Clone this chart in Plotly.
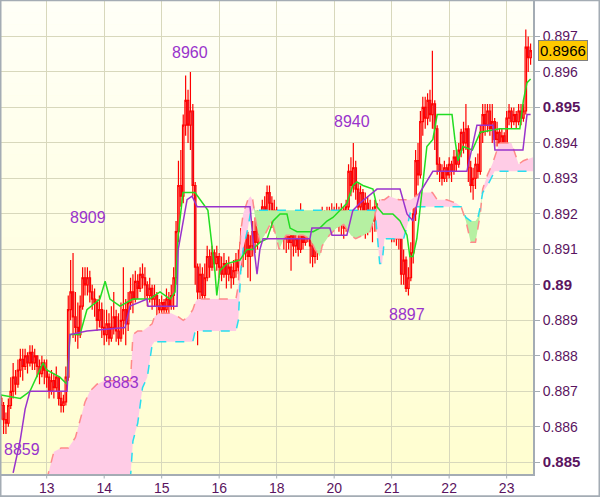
import plotly.graph_objects as go

# ---------------- data (prices in pips: 8966 -> 0.8966) ----------------
START_HOUR = -19          # hour index of first bar (0 = start of day 13)
first_open = 8868

closes = [
    8866, 8862, 8861, 8866, 8870, 8874, 8872, 8876, 8879, 8877,
    8880, 8878, 8881, 8878, 8880, 8877, 8875, 8878, 8876, 8874,
    8870, 8873, 8871, 8874, 8868, 8866, 8867, 8874, 8893, 8898,
    8891, 8888, 8886, 8894, 8902, 8900, 8902, 8898, 8896, 8895,
    8890, 8893, 8888, 8886, 8889, 8885, 8888, 8891, 8887, 8885,
    8890, 8893, 8889, 8895, 8898, 8896, 8901, 8899, 8903, 8902,
    8900, 8897, 8899, 8896, 8897, 8894, 8893, 8895, 8893, 8896,
    8894, 8897, 8902, 8915, 8928, 8925, 8945, 8952, 8945, 8949,
    8928, 8905, 8898, 8903, 8897, 8902, 8908, 8905, 8909, 8906,
    8908, 8905, 8903, 8906, 8903, 8905, 8902, 8904, 8907, 8905,
    8912, 8909, 8914, 8908, 8911, 8915, 8912, 8918, 8916, 8922,
    8920, 8926, 8923, 8918, 8921, 8916, 8914, 8917, 8913, 8915,
    8912, 8914, 8911, 8913, 8910, 8915, 8912, 8914, 8917, 8911,
    8908, 8912, 8910, 8917, 8919, 8916, 8920, 8918, 8921, 8918,
    8920, 8917, 8921, 8916, 8922, 8932, 8928, 8933, 8927, 8922,
    8926, 8919, 8923, 8917, 8921, 8918, 8922, 8919, 8922, 8917,
    8920, 8916, 8919, 8915, 8917, 8913, 8915, 8903, 8907, 8899,
    8902, 8909, 8920, 8935, 8931, 8946, 8950, 8947, 8952, 8948,
    8951, 8944, 8934, 8932, 8930, 8933, 8931, 8934, 8932, 8936,
    8934, 8938, 8943, 8940, 8944, 8933, 8928, 8930, 8934, 8932,
    8943, 8948, 8945, 8949, 8944, 8946, 8941, 8943, 8940, 8942,
    8939, 8947, 8949, 8946, 8948, 8946, 8949, 8947, 8949, 8967,
    8964, 8966,
]

highs = [
    8869, 8867, 8864, 8868, 8874, 8878, 8876, 8879, 8882, 8882,
    8882, 8881, 8883, 8883, 8882, 8880, 8879, 8880, 8879, 8879,
    8875, 8876, 8875, 8877, 8874, 8870, 8869, 8877, 8897, 8907,
    8909, 8898, 8895, 8897, 8905, 8905, 8905, 8904, 8900, 8899,
    8896, 8897, 8895, 8893, 8893, 8892, 8894, 8898, 8893, 8892,
    8895, 8905, 8896, 8898, 8902, 8903, 8904, 8903, 8905, 8906,
    8905, 8901, 8902, 8900, 8900, 8898, 8896, 8897, 8896, 8899,
    8898, 8900, 8905, 8918, 8935, 8938, 8948, 8959, 8955, 8960,
    8951, 8929, 8906, 8906, 8905, 8906, 8911, 8910, 8911, 8910,
    8911, 8909, 8908, 8909, 8907, 8908, 8906, 8907, 8909, 8910,
    8916, 8914, 8917, 8915, 8914, 8918, 8919, 8921, 8920, 8924,
    8925, 8928, 8928, 8925, 8924, 8922, 8918, 8919, 8918, 8918,
    8916, 8916, 8915, 8916, 8914, 8923, 8917, 8918, 8920, 8919,
    8913, 8914, 8914, 8920, 8922, 8921, 8922, 8922, 8923, 8922,
    8923, 8922, 8923, 8922, 8924, 8934, 8936, 8940, 8935, 8929,
    8928, 8927, 8926, 8925, 8924, 8922, 8924, 8923, 8924, 8923,
    8922, 8921, 8921, 8920, 8919, 8918, 8917, 8917, 8910, 8908,
    8905, 8912, 8923, 8938, 8940, 8949, 8953, 8953, 8954, 8955,
    8966, 8952, 8945, 8936, 8934, 8935, 8934, 8936, 8935, 8938,
    8938, 8940, 8944, 8946, 8951, 8945, 8935, 8933, 8936, 8937,
    8945, 8951, 8951, 8951, 8951, 8951, 8947, 8946, 8944, 8944,
    8943, 8949, 8951, 8950, 8950, 8949, 8951, 8951, 8951, 8972,
    8970, 8968,
]

lows = [
    8862, 8858, 8858, 8860, 8865, 8868, 8869, 8871, 8874, 8873,
    8876, 8875, 8877, 8876, 8876, 8874, 8872, 8874, 8872, 8871,
    8868, 8869, 8868, 8870, 8866, 8864, 8864, 8866, 8873, 8890,
    8885, 8884, 8882, 8885, 8893, 8897, 8897, 8895, 8893, 8891,
    8887, 8888, 8885, 8883, 8884, 8883, 8884, 8886, 8884, 8883,
    8884, 8886, 8883, 8887, 8893, 8892, 8895, 8896, 8898, 8899,
    8896, 8894, 8895, 8893, 8894, 8891, 8891, 8891, 8891, 8892,
    8890, 8893, 8893, 8900, 8912, 8922, 8923, 8942, 8940, 8938,
    8925, 8900, 8883, 8895, 8894, 8896, 8901, 8902, 8904, 8904,
    8904, 8902, 8901, 8902, 8899, 8901, 8899, 8900, 8902, 8903,
    8904, 8905, 8907, 8902, 8901, 8908, 8909, 8910, 8912, 8914,
    8917, 8919, 8919, 8916, 8915, 8913, 8911, 8912, 8910, 8909,
    8910, 8904, 8908, 8909, 8908, 8909, 8910, 8911, 8912, 8906,
    8905, 8906, 8907, 8909, 8915, 8914, 8915, 8915, 8916, 8916,
    8916, 8915, 8914, 8913, 8915, 8921, 8925, 8926, 8924, 8917,
    8920, 8914, 8913, 8914, 8915, 8912, 8915, 8915, 8917, 8915,
    8914, 8914, 8913, 8912, 8912, 8911, 8910, 8900, 8900, 8898,
    8897, 8901, 8906, 8918, 8928, 8930, 8942, 8944, 8945, 8946,
    8944, 8938, 8931, 8929, 8928, 8929, 8929, 8930, 8929, 8931,
    8932, 8933, 8936, 8937, 8938, 8929, 8926, 8924, 8927, 8930,
    8931, 8940, 8942, 8943, 8942, 8940, 8939, 8939, 8937, 8938,
    8937, 8938, 8945, 8944, 8945, 8944, 8945, 8945, 8946, 8948,
    8960, 8962,
]

day_ticks = [0, 24, 48, 72, 96, 120, 144, 168, 192]
day_labels = ["13", "14", "15", "16", "18", "20", "21", "22", "23"]

BOLD = "<span style='font-size:15px'><b>%s</b></span>"
price_ticks = [0.885, 0.886, 0.887, 0.888, 0.889, 0.890, 0.891,
               0.892, 0.893, 0.894, 0.895, 0.896, 0.897]
price_labels = [BOLD % "0.885", "0.886", "0.887", "0.888", "0.889", BOLD % "0.89",
                "0.891", "0.892", "0.893", "0.894", BOLD % "0.895", "0.896", "0.897"]

# Ichimoku cloud (senkou span A / B), read at the same hours
cloud_h = [0, 3, 6, 9, 12, 14, 16, 18, 21, 24, 28, 32, 35, 36, 38, 39, 40, 42, 44, 45,
           47, 49, 52, 55, 57, 59, 61, 62, 63, 67, 72, 76, 79, 80, 81, 82, 84, 85, 86, 87,
           88, 89, 91, 93, 94, 96, 97, 99, 100, 104, 107, 110, 112, 114, 115, 118, 121, 124,
           125, 127, 129, 132, 135, 136, 137, 138, 139, 140, 141, 143, 147, 149, 151, 152,
           154, 156, 161, 163, 167, 171, 173, 175, 177, 179, 180, 181, 182, 184, 186, 187,
           189, 194, 196, 197, 199, 203]
span_a = [8845, 8853, 8854, 8854, 8857, 8862, 8867, 8870, 8872, 8873,
          8873, 8873, 8873, 8886, 8887, 8887, 8887, 8888, 8889, 8891,
          8892, 8892, 8892, 8891, 8890, 8891, 8893, 8895, 8896, 8896,
          8896, 8896, 8896, 8900, 8915, 8920, 8924, 8925, 8924, 8919,
          8915, 8912, 8914, 8917, 8918, 8913, 8910, 8913, 8914, 8914,
          8914, 8913, 8910, 8908, 8911, 8914, 8916, 8917, 8916, 8914,
          8913, 8914, 8915, 8917, 8920, 8922, 8924, 8924, 8924, 8925,
          8924, 8924, 8924, 8924, 8925, 8926, 8926, 8924, 8924, 8923,
          8922, 8918, 8912, 8912, 8916, 8920, 8927, 8931, 8934, 8936,
          8940, 8940, 8936, 8934, 8935, 8936]
span_b = ([8830] * 11 + [8832, 8846, 8856, 8861, 8866, 8871, 8874, 8883] + [8884] * 8
          + [8887] * 6 + [8890, 8904, 8910, 8916, 8920] + [8921] * 27 + [8914, 8906, 8906]
          + [8913] * 4 + [8918, 8921] + [8922] * 7
          + [8919, 8918, 8918, 8919, 8922, 8926, 8928, 8931] + [8932] * 7)

# conversion line (green) and base line (purple)
tenkan_h = [-19.5, -11, -7, -1.5, 0, 2.6, 5.5, 8.5, 9.3, 9.7, 13.9, 16.8, 22.2, 24.4, 26.4,
            30.6, 36, 41.9, 43, 47.3, 51.5, 53.6, 54.9, 56.9, 59.8, 61.9, 67.3, 69, 70.2, 71,
            72.3, 75.3, 80.7, 83.6, 86, 89, 92, 94.5, 97.4, 100.3, 101.6, 104.5, 111.2, 114,
            117, 119.5, 122.4, 125.3, 127.8, 129.5, 132, 136.2, 137.9, 140.4, 144.5, 147.5,
            150.4, 151.6, 152.9, 154.5, 158.7, 161.2, 163, 169.2, 170.4, 171.7, 173.7, 177.7,
            181, 189.2, 197.5, 199, 200.5, 202]
tenkan_v = [8869, 8868, 8870, 8878, 8876, 8875, 8874, 8872, 8884, 8886, 8886, 8893, 8896, 8901,
            8896, 8894, 8896, 8896, 8896, 8898, 8896, 8898, 8914, 8926, 8926, 8926, 8921, 8912,
            8904, 8897, 8904, 8906, 8907, 8910, 8910, 8912, 8913, 8918, 8920, 8920, 8916, 8915,
            8915, 8916, 8918, 8919, 8921, 8923, 8928, 8929, 8928, 8927, 8922, 8920, 8920, 8918,
            8914, 8908, 8908, 8913, 8939, 8941, 8948, 8948, 8941, 8935, 8939, 8938, 8943, 8944,
            8944, 8952, 8957, 8958]
kijun_h = [-14, -11.1, -9, -7, 8.5, 9.0, 9.7, 16.8, 32.7, 34.8, 41.9, 42.3, 54.4, 54.9, 58.6,
           60.7, 62.8, 84.9, 86.1, 87.8, 89, 90.3, 92, 109.9, 110.7, 118.2, 119.1, 125.3, 127.8,
           130.7, 137.9, 147.5, 150.4, 152.9, 155.8, 161.2, 175.4, 176.7, 179.6, 186.3, 187.1,
           198.8, 200.5, 202]
kijun_v = [8847, 8856, 8865, 8870, 8870, 8878, 8886, 8887, 8888, 8894, 8896, 8894, 8894, 8910,
           8924, 8925, 8922, 8922, 8913, 8903, 8910, 8913, 8913, 8913, 8916, 8916, 8914, 8914,
           8921, 8923, 8927, 8927, 8920, 8918, 8926, 8932, 8932, 8936, 8945, 8945, 8938, 8938,
           8948, 8948]

# high/low callouts
label_text = ["8960", "8909", "8940", "8883", "8859", "8897"]
label_h = [59.8, 17.2, 127.4, 31.0, -10.3, 150.4]
label_p = [8965.4, 8919.0, 8946.0, 8872.6, 8853.7, 8891.7]

last_price = 8966

# ---------------- build ----------------
P = lambda v: v / 10000.0

n = min(len(closes), len(highs), len(lows))
hours = [START_HOUR + i for i in range(n)]
opens = [first_open] + closes[:n - 1]
c = [P(v) for v in closes[:n]]
o = [P(v) for v in opens]
h = [P(max(highs[i], opens[i], closes[i])) for i in range(n)]
l = [P(min(lows[i], opens[i], closes[i])) for i in range(n)]

m = min(len(cloud_h), len(span_a), len(span_b))
ch = cloud_h[:m]
A = [P(v) for v in span_a[:m]]
B = [P(v) for v in span_b[:m]]
top = [max(a, b) for a, b in zip(A, B)]

fig = go.Figure()

# cloud fills: pink where A above B, green where B above A
fig.add_trace(go.Scatter(x=ch, y=B, mode="lines", line=dict(width=0), hoverinfo="skip"))
fig.add_trace(go.Scatter(x=ch, y=top, mode="lines", line=dict(width=0), fill="tonexty",
                         fillcolor="#FFCCE6", hoverinfo="skip"))
fig.add_trace(go.Scatter(x=ch, y=A, mode="lines", line=dict(width=0), hoverinfo="skip"))
fig.add_trace(go.Scatter(x=ch, y=top, mode="lines", line=dict(width=0), fill="tonexty",
                         fillcolor="#B6F0A2", hoverinfo="skip"))
fig.add_trace(go.Scatter(x=ch, y=A, mode="lines",
                         line=dict(color="#FF8A8A", width=1.5, dash="dash")))
fig.add_trace(go.Scatter(x=ch, y=B, mode="lines",
                         line=dict(color="#28DDEE", width=1.5, dash="dash")))

# candles
fig.add_trace(go.Candlestick(
    x=hours, open=o, high=h, low=l, close=c,
    increasing=dict(line=dict(color="#FF0000", width=1.2), fillcolor="rgba(0,0,0,0)"),
    decreasing=dict(line=dict(color="#FF0000", width=1.2), fillcolor="#8060B4"),
    whiskerwidth=0, hoverinfo="skip",
))

fig.add_trace(go.Scatter(x=tenkan_h, y=[P(v) for v in tenkan_v], mode="lines",
                         line=dict(color="#22DD22", width=1.5)))
fig.add_trace(go.Scatter(x=kijun_h, y=[P(v) for v in kijun_v], mode="lines",
                         line=dict(color="#9933CC", width=1.5)))

# background gradient (top almost white -> bottom pale yellow)
shapes = []
NB = 40
c_top = (255, 255, 247)
c_bot = (255, 254, 208)
for i in range(NB):
    t = (i + 0.5) / NB
    col = tuple(round(c_top[k] + (c_bot[k] - c_top[k]) * t) for k in range(3))
    shapes.append(dict(type="rect", xref="paper", yref="paper", x0=0, x1=1,
                       y0=1 - (i + 1) / NB, y1=1 - i / NB + 0.001,
                       fillcolor="rgb(%d,%d,%d)" % col, line=dict(width=0), layer="below"))
# short day tick marks below the time axis
for d in day_ticks:
    shapes.append(dict(type="line", xref="x", yref="paper", x0=d, x1=d,
                       y0=0, y1=-4.5 / 473, line=dict(color="#A4ACB4", width=1),
                       layer="above"))
# outer border of the picture
shapes.append(dict(type="rect", xref="paper", yref="paper",
                   x0=-0.5 / 532, x1=598.5 / 532, y0=-22.2 / 473, y1=473.8 / 473,
                   line=dict(color="#A4ACB4", width=2), fillcolor="rgba(0,0,0,0)",
                   layer="above"))

annotations = []
for t, hx, py in zip(label_text, label_h, label_p):
    annotations.append(dict(x=hx, y=P(py), xref="x", yref="y", text=t, showarrow=False,
                            font=dict(family="Liberation Sans, Arial", size=16,
                                      color="#9933CC")))
annotations.append(dict(x=536.5 / 532, y=P(last_price), xref="paper", yref="y",
                        xanchor="left", yanchor="middle", text="0.8966", showarrow=False,
                        bgcolor="#FFC800", bordercolor="#808080", borderwidth=1, borderpad=1,
                        font=dict(family="Liberation Sans, Arial", size=15, color="#000000")))

tickfont = dict(family="Liberation Sans, Arial", size=14, color="#5A1460")

fig.update_layout(
    width=600, height=497,
    margin=dict(l=1, r=67, t=1, b=23, autoexpand=False),
    paper_bgcolor="#FFFFFF",
    plot_bgcolor="#FFFEE0",
    showlegend=False,
    hovermode=False,
    boxgap=0.12,
    shapes=shapes,
    annotations=annotations,
    xaxis=dict(range=[-19.07, 203.0], tickvals=day_ticks, ticktext=day_labels,
               showgrid=True, gridcolor="#D8D8BC", gridwidth=1, zeroline=False,
               showline=True, linecolor="#A4ACB4", linewidth=2, ticks="",
               automargin=False,
               tickfont=tickfont, rangeslider=dict(visible=False), fixedrange=True),
    yaxis=dict(range=[0.88467, 0.89800], side="right", tickvals=price_ticks,
               ticktext=price_labels, showgrid=True, gridcolor="#D8D8BC", gridwidth=1,
               zeroline=False, showline=True, linecolor="#A4ACB4", linewidth=2,
               ticks="outside", ticklen=5, tickcolor="#A4ACB4", tickfont=tickfont,
               automargin=False, fixedrange=True),
)

fig.write_html("out.html",
               config={"displayModeBar": False, "staticPlot": True},
               post_script="document.body.style.margin='0';document.body.style.padding='0';"
                           "document.body.style.overflow='hidden';")
